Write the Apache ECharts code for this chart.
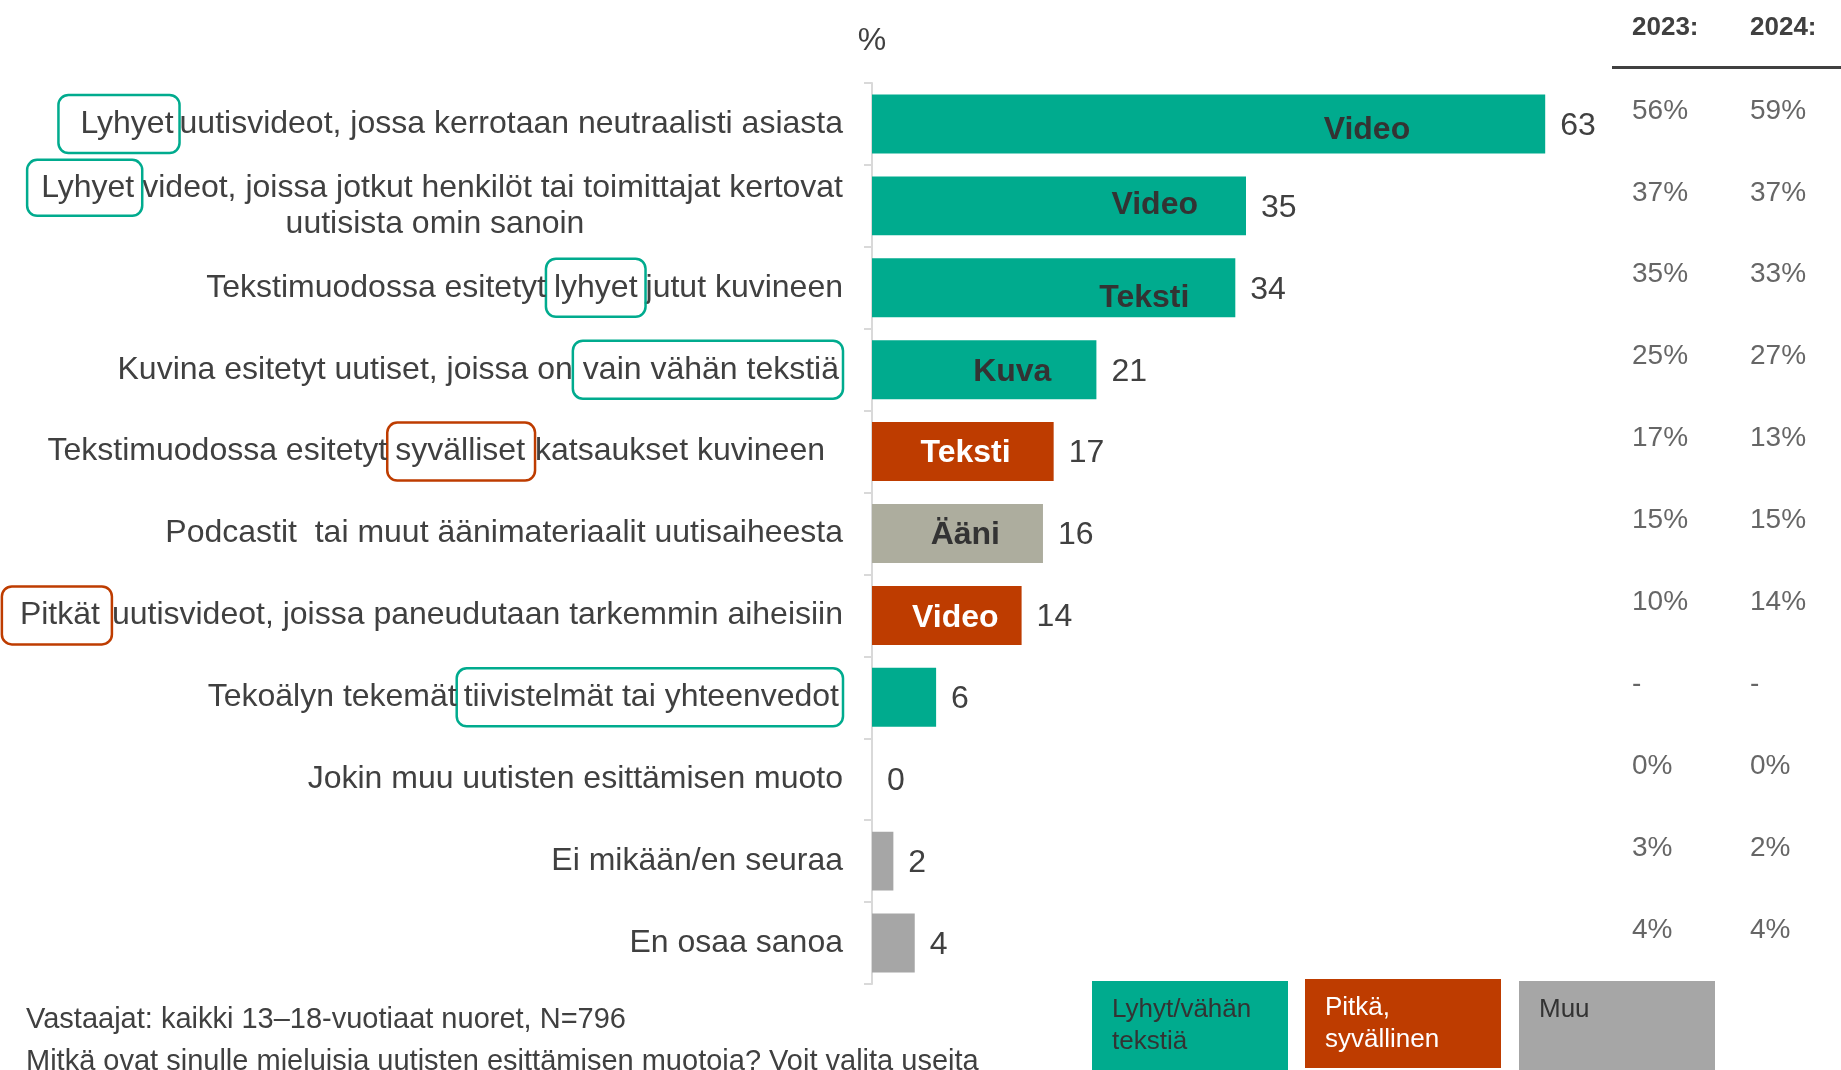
<!DOCTYPE html>
<html>
<head>
<meta charset="utf-8">
<script src="https://cdn.jsdelivr.net/npm/echarts@6/dist/echarts.min.js"></script>
<style>
  html, body { margin: 0; padding: 0; background: #ffffff; }
  #chart { width: 1841px; height: 1070px; }
</style>
</head>
<body>
<div id="chart"></div>
<script>
// data
const categories = [
  "Lyhyet uutisvideot, jossa kerrotaan neutraalisti asiasta",
  "Lyhyet videot, joissa jotkut henkilöt tai toimittajat kertovat\nuutisista omin sanoin",
  "Tekstimuodossa esitetyt lyhyet jutut kuvineen",
  "Kuvina esitetyt uutiset, joissa on vain vähän tekstiä",
  "Tekstimuodossa esitetyt syvälliset katsaukset kuvineen",
  "Podcastit  tai muut äänimateriaalit uutisaiheesta",
  "Pitkät uutisvideot, joissa paneudutaan tarkemmin aiheisiin",
  "Tekoälyn tekemät tiivistelmät tai yhteenvedot",
  "Jokin muu uutisten esittämisen muoto",
  "Ei mikään/en seuraa",
  "En osaa sanoa"
];
const values2025 = [63, 35, 34, 21, 17, 16, 14, 6, 0, 2, 4];
const formatType = ["Video", "Video", "Teksti", "Kuva", "Teksti", "Ääni", "Video", "", "", "", ""];
const groups = ["lyhyt", "lyhyt", "lyhyt", "lyhyt", "pitka", "aani", "pitka", "lyhyt", "muu", "muu", "muu"];
const highlight = ["Lyhyet", "Lyhyet", "lyhyet", "vain vähän tekstiä", "syvälliset", "", "Pitkät", "tiivistelmät tai yhteenvedot", "", "", ""];
const values2023 = [56, 37, 35, 25, 17, 15, 10, null, 0, 3, 4];
const values2024 = [59, 37, 33, 27, 13, 15, 14, null, 0, 2, 4];
const yearLabels = ["2023:", "2024:"];
const legendLabels = ["Lyhyt/vähän\ntekstiä", "Pitkä,\nsyvällinen", "Muu"];
const footnote = "Vastaajat: kaikki 13–18-vuotiaat nuoret, N=796\nMitkä ovat sinulle mieluisia uutisten esittämisen muotoja? Voit valita useita";

// styles
const FONT = "'Liberation Sans', Arial, sans-serif";
const TEXT = "#404040";
const colors = { lyhyt: "#00AB8E", pitka: "#BE3C00", aani: "#ADAD9E", muu: "#A6A6A6" };
// padding of highlight boxes [top, right, bottom, left]
const boxPad = [
  [13, 6, 13, 22], [12, 8, 12, 14], [13, 8, 13, 8], [13, 4, 13, 10],
  [13, 10, 13, 8], null, [13, 12, 13, 18], [13, 4, 13, 7]
];
// inner label: distance from bar end, vertical shift
const innerDist = [135, 48, 46, 45, 43, 43, 23, 0, 0, 0, 0];
const innerDy = [6, -1, 10, 2, 2, 2, 3, 0, 0, 0, 0];

// width of the first line of a wrapped label, so the next line can be centred under it
const measureCtx = document.createElement("canvas").getContext("2d");
measureCtx.font = "32px " + FONT;
function firstLineWidth(idx) {
  const first = categories[idx].split("\n")[0];
  const h = highlight[idx];
  if (!h) return measureCtx.measureText(first).width;
  const i = first.indexOf(h);
  const before = first.slice(0, i).replace(/ $/, "");
  const after = first.slice(i + h.length).replace(/^ /, "");
  const p = boxPad[idx];
  return measureCtx.measureText(before).width + measureCtx.measureText(h).width + p[1] + p[3] + measureCtx.measureText(after).width;
}

const rich = {
  n: { fontSize: 32, fontFamily: FONT, color: TEXT, lineHeight: 36, verticalAlign: "middle" },
  c: { fontSize: 32, fontFamily: FONT, color: TEXT, lineHeight: 36, verticalAlign: "middle", width: Math.round(firstLineWidth(1)), align: "center" },
  pad: { fontSize: 32, fontFamily: FONT, lineHeight: 36, width: 18 }
};
boxPad.forEach((p, i) => {
  if (!p) return;
  rich["h" + i] = {
    fontSize: 32, fontFamily: FONT, color: TEXT, lineHeight: 36, verticalAlign: "middle",
    borderColor: colors[groups[i]], borderWidth: 2.5, borderRadius: 10, padding: p
  };
});

function catLabel(value, idx) {
  const lines = value.split("\n");
  const h = highlight[idx];
  let out;
  if (h) {
    const first = lines[0];
    const i = first.indexOf(h);
    const before = first.slice(0, i).replace(/ $/, "");
    const after = first.slice(i + h.length).replace(/^ /, "");
    out = (before ? "{n|" + before + "}" : "") + "{h" + idx + "|" + h + "}" + (after ? "{n|" + after + "}" : "");
  } else {
    out = "{n|" + lines[0] + "}";
  }
  for (let k = 1; k < lines.length; k++) out += "\n{c|" + lines[k] + "}";
  if (idx === 4) out += "{pad| }";
  return out;
}

const tableLabel = (arr) => (p) => {
  const v = arr[p.dataIndex];
  return v == null ? "-" : v + "%";
};

const chart = echarts.init(document.getElementById("chart"));

const option = {
  animation: false,
  backgroundColor: "#ffffff",
  grid: [
    { left: 872, right: 221, top: 83, bottom: 86, containLabel: false, outerBoundsMode: "none" },
    { left: 1632, right: 91, top: 83, bottom: 86, containLabel: false, outerBoundsMode: "none" }
  ],
  xAxis: [
    { type: "value", gridIndex: 0, min: 0, max: 70, show: false },
    {
      type: "category", gridIndex: 1, data: yearLabels, boundaryGap: false, position: "top",
      axisLine: { show: false }, axisTick: { show: false }, splitLine: { show: false },
      axisLabel: { margin: 42, align: "left", fontSize: 26, fontWeight: "bold", fontFamily: FONT, color: TEXT }
    }
  ],
  yAxis: [
    {
      type: "category", gridIndex: 0, data: categories, inverse: true,
      name: "%", nameLocation: "start", nameGap: 26,
      nameTextStyle: { fontSize: 32, fontFamily: FONT, color: TEXT, align: "center" },
      axisLine: { show: true, lineStyle: { color: "#D9D9D9", width: 2 } },
      axisTick: { show: true, length: 8, lineStyle: { color: "#D9D9D9", width: 2 } },
      splitLine: { show: false },
      axisLabel: { margin: 29, formatter: catLabel, rich: rich, align: "right" }
    },
    { type: "category", gridIndex: 1, data: categories, inverse: true, show: false }
  ],
  series: [
    {
      type: "bar",
      xAxisIndex: 0, yAxisIndex: 0,
      barCategoryGap: "28%",
      data: values2025.map((v, i) => ({ value: v, itemStyle: { color: colors[groups[i]] } })),
      label: { show: true, position: "right", distance: 15, offset: [0, 2], fontSize: 32, fontFamily: FONT, color: TEXT },
      z: 2
    },
    {
      type: "bar",
      xAxisIndex: 0, yAxisIndex: 0,
      barGap: "-100%",
      barCategoryGap: "28%",
      silent: true,
      itemStyle: { color: "rgba(0,0,0,0)" },
      data: values2025.map((v, i) => ({
        value: v,
        label: {
          distance: innerDist[i],
          offset: [0, innerDy[i]],
          color: groups[i] === "pitka" ? "#ffffff" : "#333333"
        }
      })),
      label: {
        show: true, position: "insideRight", fontSize: 32, fontWeight: "bold", fontFamily: FONT,
        formatter: (p) => formatType[p.dataIndex]
      },
      z: 3
    },
    {
      type: "scatter",
      xAxisIndex: 1, yAxisIndex: 1,
      symbolSize: 0,
      data: values2023.map((v, i) => [0, i]),
      label: { show: true, position: "right", distance: 0, offset: [0, -13], fontSize: 28, fontFamily: FONT, color: TEXT, formatter: tableLabel(values2023) }
    },
    {
      type: "scatter",
      xAxisIndex: 1, yAxisIndex: 1,
      symbolSize: 0,
      data: values2024.map((v, i) => [1, i]),
      label: { show: true, position: "right", distance: 0, offset: [0, -13], fontSize: 28, fontFamily: FONT, color: TEXT, formatter: tableLabel(values2024) }
    }
  ],
  graphic: [
    { type: "rect", left: 1612, top: 66, shape: { width: 229, height: 3 }, style: { fill: "#404040" } },
    { type: "rect", left: 1092, top: 981, shape: { width: 196, height: 89 }, style: { fill: colors.lyhyt } },
    { type: "text", left: 1112, top: 994, style: { text: legendLabels[0], font: "26px " + FONT, fill: "#333333", lineHeight: 32 } },
    { type: "rect", left: 1305, top: 979, shape: { width: 196, height: 89 }, style: { fill: colors.pitka } },
    { type: "text", left: 1325, top: 992, style: { text: legendLabels[1], font: "26px " + FONT, fill: "#ffffff", lineHeight: 32 } },
    { type: "rect", left: 1519, top: 981, shape: { width: 196, height: 89 }, style: { fill: colors.muu } },
    { type: "text", left: 1539, top: 994, style: { text: legendLabels[2], font: "26px " + FONT, fill: "#333333", lineHeight: 32 } },
    { type: "text", left: 26, top: 999, style: { text: footnote, font: "29px " + FONT, fill: TEXT, lineHeight: 42 } }
  ]
};

chart.setOption(option);
</script>
</body>
</html>
